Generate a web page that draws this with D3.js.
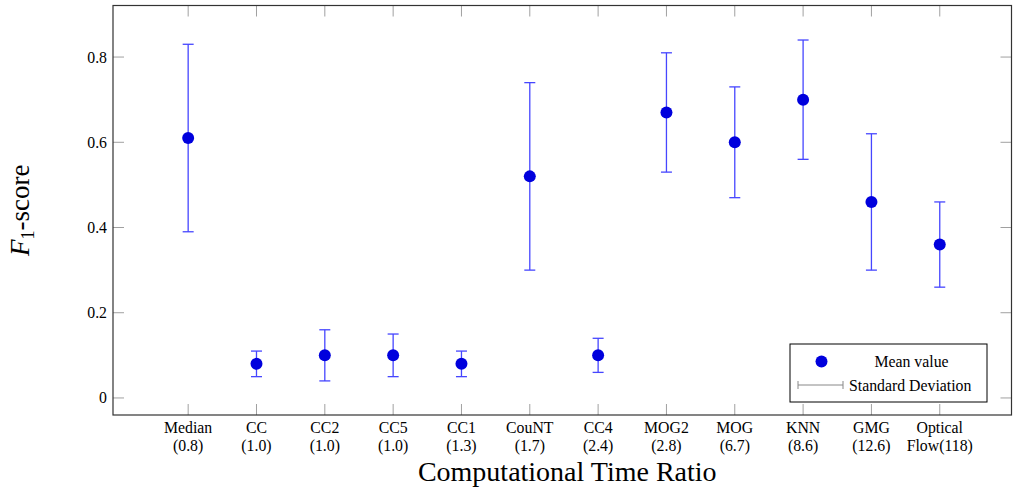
<!DOCTYPE html>
<html><head><meta charset="utf-8">
<script src="https://cdn.jsdelivr.net/npm/d3@7"></script>
<style>body{margin:0;background:#fff}svg{display:block}text{font-family:"Liberation Serif","Times New Roman",serif;fill:#000}</style>
</head><body><svg id="c" width="1020" height="490"></svg>
<script>
const methods = ["Median","CC","CC2","CC5","CC1","CouNT","CC4","MOG2","MOG","KNN","GMG","Optical"];
const ratios = ["(0.8)","(1.0)","(1.0)","(1.0)","(1.3)","(1.7)","(2.4)","(2.8)","(6.7)","(8.6)","(12.6)","Flow(118)"];
const means = [0.61,0.08,0.10,0.10,0.08,0.52,0.10,0.67,0.60,0.70,0.46,0.36];
const stds  = [0.22,0.03,0.06,0.05,0.03,0.22,0.04,0.14,0.13,0.14,0.16,0.10];
const yTicks = [0,0.2,0.4,0.6,0.8];

const svg = d3.select("#c");
const L=113, R=1011.5, T=5.5, B=415;
const x = d3.scaleLinear().domain([-1.1,12.05]).range([L,R]);
const y = d3.scaleLinear().domain([-0.04,0.921]).range([B,T]);
const tickCol="#a0a0a0", barCol="#4646ff", dotCol="#0000dd";
const fs = 15.8;

// ticks
const g = svg.append("g");
methods.forEach((m,i)=>{
  g.append("line").attr("x1",x(i)).attr("x2",x(i)).attr("y1",B).attr("y2",B-11).attr("stroke",tickCol).attr("stroke-width",1);
  g.append("line").attr("x1",x(i)).attr("x2",x(i)).attr("y1",T).attr("y2",T+11).attr("stroke",tickCol).attr("stroke-width",1);
  g.append("text").attr("x",x(i)).attr("y",433).attr("text-anchor","middle").attr("font-size",fs).text(m);
  g.append("text").attr("x",x(i)).attr("y",451).attr("text-anchor","middle").attr("font-size",fs).text(ratios[i]);
});
yTicks.forEach(v=>{
  g.append("line").attr("x1",L).attr("x2",L+11).attr("y1",y(v)).attr("y2",y(v)).attr("stroke",tickCol);
  g.append("line").attr("x1",R).attr("x2",R-11).attr("y1",y(v)).attr("y2",y(v)).attr("stroke",tickCol);
  g.append("text").attr("x",107).attr("y",y(v)).attr("dy","0.35em").attr("text-anchor","end").attr("font-size",fs).text(v===0?"0":v.toFixed(1));
});
svg.append("rect").attr("x",L).attr("y",T).attr("width",R-L).attr("height",B-T).attr("fill","none").attr("stroke","#333").attr("stroke-width",1.2);

// error bars
const eb = svg.append("g");
means.forEach((m,i)=>{
  const lo=m-stds[i], hi=m+stds[i], cx=x(i);
  eb.append("line").attr("x1",cx).attr("x2",cx).attr("y1",y(lo)).attr("y2",y(hi)).attr("stroke",barCol).attr("stroke-width",1.3);
  [lo,hi].forEach(v=>eb.append("line").attr("x1",cx-5.5).attr("x2",cx+5.5).attr("y1",y(v)).attr("y2",y(v)).attr("stroke",barCol).attr("stroke-width",1.3));
});
svg.append("g").selectAll("circle").data(means).join("circle")
  .attr("cx",(d,i)=>x(i)).attr("cy",d=>y(d)).attr("r",6).attr("fill",dotCol);

// legend
const lg = svg.append("g");
lg.append("rect").attr("x",790).attr("y",344).attr("width",197).attr("height",58).attr("fill","#fff").attr("stroke","#000").attr("stroke-width",1);
lg.append("circle").attr("cx",821.5).attr("cy",361.5).attr("r",6).attr("fill",dotCol);
lg.append("text").attr("x",911.5).attr("y",361.5).attr("dy","0.35em").attr("text-anchor","middle").attr("font-size",fs).text("Mean value");
lg.append("line").attr("x1",798).attr("x2",843).attr("y1",385).attr("y2",385).attr("stroke","#888");
[798,843].forEach(xx=>lg.append("line").attr("x1",xx).attr("x2",xx).attr("y1",381).attr("y2",389).attr("stroke","#888"));
lg.append("text").attr("x",849).attr("y",385).attr("dy","0.35em").attr("font-size",fs).text("Standard Deviation");

// axis titles
svg.append("text").attr("x",(L+R)/2+5).attr("y",481).attr("text-anchor","middle").attr("font-size",28).text("Computational Time Ratio");
const yl = svg.append("text").attr("transform",`translate(29,${(T+B)/2}) rotate(-90)`).attr("text-anchor","middle").attr("font-size",27);
yl.append("tspan").attr("font-style","italic").text("F");
yl.append("tspan").attr("font-size",18).attr("dy",5).text("1");
yl.append("tspan").attr("dy",-5).text("-score");
</script></body></html>
